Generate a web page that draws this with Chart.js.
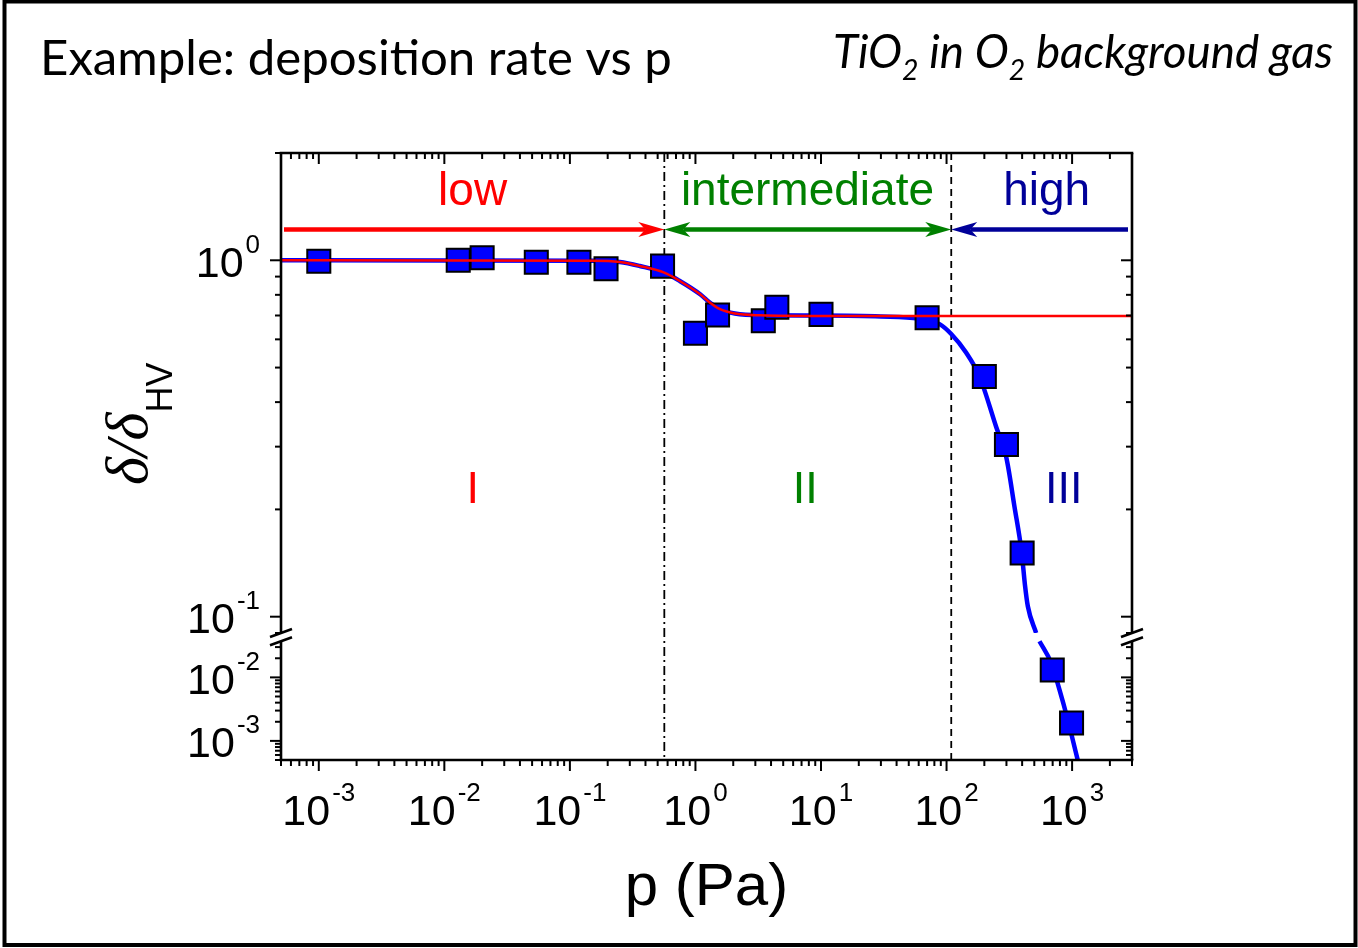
<!DOCTYPE html>
<html>
<head>
<meta charset="utf-8">
<title>deposition rate vs p</title>
<script src="https://cdn.jsdelivr.net/npm/chart.js@4/dist/chart.umd.min.js"></script>
<style>
  html, body { margin: 0; padding: 0; background: #fff; }
  canvas { display: block; }
</style>
</head>
<body>
<canvas id="chart" width="1358" height="948"></canvas>
<script>
// measured deposition rate, normalised to the high vacuum value
const pressure = [0.001, 0.0129, 0.020, 0.054, 0.118, 0.194, 0.547, 1.0, 1.50, 3.47, 4.45, 10, 70, 200, 300, 400, 695, 990];
const ratio    = [0.994, 1.0, 1.016, 0.988, 0.988, 0.947, 0.963, 0.624, 0.702, 0.677, 0.738, 0.705, 0.690, 0.472, 0.304, 0.151, 0.0131, 0.00191];

// blue fit, above the axis break and below it
const fitP     = [0.0005, 0.15, 0.25, 0.36, 0.565, 0.75, 1.09, 1.3, 1.57, 2.06, 3.3, 10, 30, 60, 88, 109, 143, 183, 249, 299, 348, 397, 421, 444, 517];
const fitRatio = [1.0, 0.997, 0.989, 0.964, 0.923, 0.875, 0.803, 0.761, 0.729, 0.709, 0.701, 0.700, 0.696, 0.686, 0.662, 0.621, 0.551, 0.472, 0.340, 0.280, 0.203, 0.151, 0.123, 0.107, 0.090];
const fitLowP     = [550, 681, 793, 923, 1109];
const fitLowRatio = [0.0371, 0.0169, 0.0064, 0.00215, 0.0005];

// red fit, plateau continued to high pressure
const redP     = [0.0005, 0.15, 0.25, 0.36, 0.565, 0.75, 1.09, 1.3, 1.57, 2.06, 3.3, 10, 3000];
const redRatio = [1.0, 0.997, 0.989, 0.964, 0.923, 0.875, 0.803, 0.761, 0.729, 0.709, 0.701, 0.698, 0.698];

// axis ranges, tick label exponents
const xRange = [5e-4, 3000];
const yUpperRange = [0.09, 2];
const yLowerRange = [5e-4, 0.05];
const breakRestart = 0.037;
const xLabelExp = [-3, -2, -1, 0, 1, 2, 3];
const yUpperLabelExp = [0, -1];
const yLowerLabelExp = [-2, -3];

// regimes
const boundaries = [0.565, 109];
const regimeNames = ['low', 'intermediate', 'high'];
const regimeNumerals = ['I', 'II', 'III'];
const regimeColors = ['#ff0000', '#008000', '#000099'];
const nameP = [0.0168, 7.8, 627];
const numeralP = [0.0168, 7.5, 860];
const arrowLevel = 1.22;
const nameLevel = 1.43;
const numeralLevel = 0.209;

const SANS = '"Liberation Sans", Arial, sans-serif';

const pts = (xs, ys) => xs.map((x, i) => ({ x, y: ys[i] }));
const measured = pts(pressure, ratio);
const onUpper = d => d.y >= yUpperRange[0];

const curve = (data, axis, color, width, order) => ({
  data, yAxisID: axis, showLine: true, borderColor: color, borderWidth: width,
  pointRadius: 0, cubicInterpolationMode: 'monotone', order
});
const squares = (data, axis) => ({
  data, yAxisID: axis, showLine: false, pointStyle: 'rect', pointRadius: 16.3,
  pointBackgroundColor: '#0000ff', pointBorderColor: '#000', pointBorderWidth: 2, order: 1
});

function logTicks(min, max) {
  const out = [];
  for (let e = Math.floor(Math.log10(min)); e <= Math.ceil(Math.log10(max)); e++) {
    for (let k = 1; k <= 9; k++) {
      const v = k * Math.pow(10, e);
      if (v >= min * 0.999 && v <= max * 1.001) out.push({ v, major: k === 1 });
    }
  }
  return out;
}

function line(ctx, x1, y1, x2, y2) {
  ctx.beginPath(); ctx.moveTo(x1, y1); ctx.lineTo(x2, y2); ctx.stroke();
}

// "10" with a raised exponent
function pow10(ctx, x, y, exp, align) {
  const main = '43px ' + SANS, sup = '26px ' + SANS;
  const s = exp < 0 ? '-' + (-exp) : String(exp);
  ctx.font = main; const w1 = ctx.measureText('10').width;
  ctx.font = sup; const w2 = ctx.measureText(s).width;
  const total = w1 + 2 + w2;
  const x0 = align === 'center' ? x - total / 2 : x - total;
  ctx.textAlign = 'left'; ctx.textBaseline = 'alphabetic'; ctx.fillStyle = '#000';
  ctx.font = main; ctx.fillText('10', x0, y);
  ctx.font = sup; ctx.fillText(s, x0 + w1 + 2, y - 24);
}

function arrowHead(ctx, tip, y, dir, color) {
  ctx.fillStyle = color;
  ctx.beginPath();
  ctx.moveTo(tip, y);
  ctx.lineTo(tip - dir * 26, y - 7.5);
  ctx.lineTo(tip - dir * 19, y);
  ctx.lineTo(tip - dir * 26, y + 7.5);
  ctx.closePath();
  ctx.fill();
}

const decor = {
  id: 'decor',
  beforeDraw(chart) {
    const ctx = chart.ctx;
    ctx.save();
    ctx.fillStyle = '#fff';
    ctx.fillRect(0, 0, chart.width, chart.height);
    ctx.restore();
  },
  beforeDatasetsDraw(chart) {
    const { ctx, chartArea: a, scales: { x } } = chart;
    ctx.save();
    ctx.strokeStyle = '#000';
    ctx.lineWidth = 1.8;
    ctx.setLineDash([9, 4, 2, 4]);
    let px = x.getPixelForValue(boundaries[0]);
    line(ctx, px, a.top, px, a.bottom);
    ctx.setLineDash([7, 5]);
    px = x.getPixelForValue(boundaries[1]);
    line(ctx, px, a.top, px, a.bottom);
    ctx.restore();
  },
  afterDatasetsDraw(chart) {
    const { ctx, chartArea: a, scales: { x, y } } = chart;
    ctx.save();
    const ay = y.getPixelForValue(arrowLevel);
    const b0 = x.getPixelForValue(boundaries[0]);
    const b1 = x.getPixelForValue(boundaries[1]);
    ctx.lineWidth = 4.5;
    // low
    ctx.strokeStyle = regimeColors[0];
    line(ctx, a.left + 3, ay, b0 - 19, ay);
    arrowHead(ctx, b0, ay, 1, regimeColors[0]);
    // intermediate
    ctx.strokeStyle = regimeColors[1];
    line(ctx, b0 + 19, ay, b1 - 19, ay);
    arrowHead(ctx, b0, ay, -1, regimeColors[1]);
    arrowHead(ctx, b1, ay, 1, regimeColors[1]);
    // high
    ctx.strokeStyle = regimeColors[2];
    line(ctx, b1 + 19, ay, a.right - 4, ay);
    arrowHead(ctx, b1, ay, -1, regimeColors[2]);

    ctx.textAlign = 'center';
    ctx.textBaseline = 'alphabetic';
    ctx.font = '46px ' + SANS;
    regimeNames.forEach((t, i) => {
      ctx.fillStyle = regimeColors[i];
      ctx.fillText(t, x.getPixelForValue(nameP[i]), y.getPixelForValue(nameLevel));
    });
    ctx.font = '45px ' + SANS;
    regimeNumerals.forEach((t, i) => {
      ctx.fillStyle = regimeColors[i];
      ctx.fillText(t, x.getPixelForValue(numeralP[i]), y.getPixelForValue(numeralLevel));
    });
    ctx.restore();
  },
  afterDraw(chart) {
    const { ctx, chartArea: a, scales: { x, y, y2 } } = chart;
    ctx.save();
    ctx.strokeStyle = '#000';
    ctx.fillStyle = '#000';
    const gapTop = y.bottom;
    const gapBot = y2.getPixelForValue(breakRestart);

    // frame of the plot
    ctx.lineWidth = 2.6;
    line(ctx, a.left - 1.3, a.bottom, a.right + 1.3, a.bottom);
    line(ctx, a.left - 1.3, a.top, a.right + 1.3, a.top);
    for (const ax of [a.left, a.right]) {
      line(ctx, ax, a.top, ax, gapTop);
      line(ctx, ax, gapBot, ax, a.bottom);
      line(ctx, ax - 11, gapTop + 4, ax + 11, gapTop - 4);
      line(ctx, ax - 11, gapBot + 4, ax + 11, gapBot - 4);
    }

    // ticks
    ctx.lineWidth = 2;
    for (const t of logTicks(...xRange)) {
      const px = x.getPixelForValue(t.v), len = t.major ? 11 : 6;
      line(ctx, px, a.bottom, px, a.bottom + len);
      line(ctx, px, a.top, px, a.top + len);
    }
    for (const [sc, rng] of [[y, yUpperRange], [y2, yLowerRange]]) {
      for (const t of logTicks(...rng)) {
        const py = sc.getPixelForValue(t.v), len = t.major ? 11 : 6;
        if (py > gapTop + 1 && py < gapBot - 1) continue;
        line(ctx, a.left, py, a.left - len, py);
        line(ctx, a.right, py, a.right - len, py);
      }
    }

    // tick labels
    for (const e of xLabelExp) pow10(ctx, x.getPixelForValue(Math.pow(10, e)), a.bottom + 65, e, 'center');
    for (const e of yUpperLabelExp) pow10(ctx, a.left - 21, y.getPixelForValue(Math.pow(10, e)) + 16.5, e, 'right');
    for (const e of yLowerLabelExp) pow10(ctx, a.left - 21, y2.getPixelForValue(Math.pow(10, e)) + 16.5, e, 'right');

    // axis titles
    ctx.fillStyle = '#000';
    ctx.textAlign = 'center';
    ctx.font = '60px ' + SANS;
    ctx.fillText('p (Pa)', (a.left + a.right) / 2, 905);

    ctx.save();
    ctx.translate(147, 485);
    ctx.rotate(-Math.PI / 2);
    ctx.textAlign = 'left';
    ctx.font = 'italic 60px "Liberation Serif", "DejaVu Serif", serif';
    ctx.fillText('\u03b4/\u03b4', 0, 0);
    const w = ctx.measureText('\u03b4/\u03b4').width;
    ctx.font = '36px ' + SANS;
    ctx.fillText('HV', w, 25);
    ctx.restore();

    // headings
    ctx.textAlign = 'left';
    const head = 'Example: deposition rate vs p';
    ctx.font = '100px Lato, sans-serif';
    let size = 100 * 632 / ctx.measureText(head).width;
    ctx.font = size + 'px Lato, sans-serif';
    ctx.fillText(head, 40, 75);

    const parts = [['TiO', 0], ['2', 1], [' in O', 0], ['2', 1], [' background gas', 0]];
    const widthAt = s => parts.reduce((acc, [t, sub]) => {
      ctx.font = 'italic ' + (sub ? s * 0.62 : s) + 'px Lato, sans-serif';
      return acc + ctx.measureText(t).width;
    }, 0);
    size = 100 * 500 / widthAt(100);
    let cx = 833;
    for (const [t, sub] of parts) {
      ctx.font = 'italic ' + (sub ? size * 0.62 : size) + 'px Lato, sans-serif';
      ctx.fillText(t, cx, sub ? 80 : 68);
      cx += ctx.measureText(t).width;
    }

    // outer frame
    ctx.lineWidth = 4;
    ctx.strokeRect(4.5, 1.5, 1351, 943.5);
    ctx.restore();
  }
};

new Chart(document.getElementById('chart'), {
  type: 'scatter',
  data: {
    datasets: [
      curve(pts(redP, redRatio), 'y', '#ff0000', 2.5, 0),
      squares(measured.filter(onUpper), 'y'),
      squares(measured.filter(d => !onUpper(d)), 'y2'),
      curve(pts(fitP, fitRatio), 'y', '#0000ff', 4.5, 2),
      curve(pts(fitLowP, fitLowRatio), 'y2', '#0000ff', 4.5, 2)
    ]
  },
  options: {
    responsive: false,
    animation: false,
    devicePixelRatio: 1,
    events: [],
    layout: { padding: { left: 281, right: 226, top: 153, bottom: 188 } },
    plugins: { legend: { display: false }, tooltip: { enabled: false } },
    scales: {
      x: {
        type: 'logarithmic', position: 'bottom', min: xRange[0], max: xRange[1],
        ticks: { display: false }, grid: { display: false }, border: { display: false },
        afterFit: s => { s.height = 0; }
      },
      y: {
        type: 'logarithmic', position: 'left', stack: 'v', stackWeight: 480, weight: 1,
        min: yUpperRange[0], max: yUpperRange[1],
        ticks: { display: false }, grid: { display: false }, border: { display: false },
        afterFit: s => { s.width = 0; }
      },
      y2: {
        type: 'logarithmic', position: 'left', stack: 'v', stackWeight: 127, weight: 0,
        min: yLowerRange[0], max: yLowerRange[1],
        ticks: { display: false }, grid: { display: false }, border: { display: false },
        afterFit: s => { s.width = 0; }
      }
    }
  },
  plugins: [decor]
});
</script>
</body>
</html>
